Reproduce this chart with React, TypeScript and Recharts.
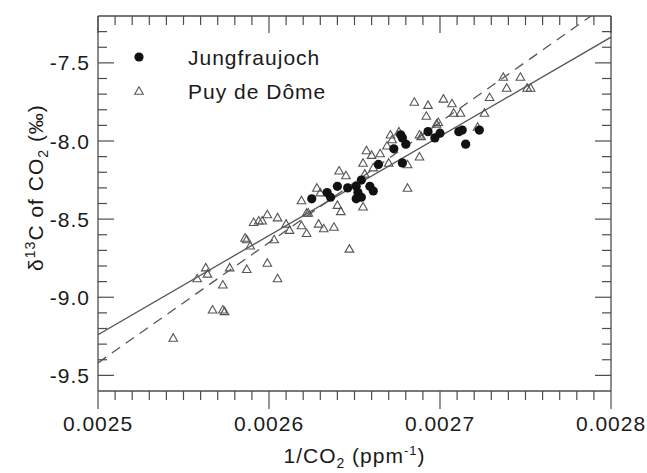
import { ScatterChart, Scatter, XAxis, YAxis, ReferenceLine } from "recharts"

const FONT = "'Liberation Sans', Arial, Helvetica, sans-serif"
const AX = "#4d4d4d"
const TXT = "#1a1a1a"
const FS = 21

// Jungfraujoch: 1/CO2 (ppm-1) and d13C (permil)
const jfjX = [0.002625, 0.002634, 0.002636, 0.00264, 0.002646, 0.002651, 0.002652, 0.002654, 0.002659, 0.002661, 0.002651, 0.002654, 0.002664, 0.002673, 0.002677, 0.002678, 0.00268, 0.002678, 0.002693, 0.002697, 0.0027, 0.002711, 0.002713, 0.002715, 0.002723]
const jfjY = [-8.37, -8.33, -8.36, -8.29, -8.3, -8.29, -8.33, -8.25, -8.29, -8.32, -8.37, -8.36, -8.15, -8.05, -7.96, -7.98, -8.02, -8.14, -7.94, -7.98, -7.95, -7.94, -7.93, -8.02, -7.93]

// Puy de Dome
const pdmX = [0.002544, 0.002558, 0.002563, 0.002564, 0.002567, 0.002573, 0.002573, 0.002574, 0.002577, 0.002587, 0.002586, 0.002587, 0.002589, 0.002591, 0.002594, 0.002596, 0.002599, 0.002599, 0.002603, 0.002605, 0.002605, 0.00261, 0.002612, 0.002619, 0.002622, 0.002622, 0.002623, 0.002629, 0.002632, 0.002638, 0.00264, 0.002642, 0.002647, 0.002655, 0.002619, 0.002628, 0.00263, 0.002641, 0.002645, 0.002656, 0.002661, 0.002655, 0.002657, 0.00266, 0.002665, 0.00267, 0.002669, 0.002671, 0.002672, 0.002676, 0.002688, 0.002688, 0.002681, 0.002698, 0.002685, 0.002693, 0.002692, 0.002702, 0.002707, 0.002708, 0.002712, 0.002699, 0.002689, 0.002729, 0.002726, 0.002737, 0.002747, 0.002739, 0.002751, 0.002753, 0.002722, 0.002681]
const pdmY = [-9.26, -8.88, -8.81, -8.85, -9.08, -8.92, -9.08, -9.09, -8.81, -8.82, -8.62, -8.63, -8.67, -8.52, -8.51, -8.51, -8.47, -8.78, -8.63, -8.49, -8.88, -8.53, -8.57, -8.54, -8.59, -8.46, -8.46, -8.53, -8.56, -8.55, -8.41, -8.45, -8.69, -8.42, -8.38, -8.3, -8.33, -8.19, -8.22, -8.21, -8.17, -8.14, -8.06, -8.09, -8.08, -8.14, -8.03, -7.96, -7.99, -7.94, -7.96, -8.1, -8.3, -7.89, -7.75, -7.77, -7.84, -7.73, -7.76, -7.82, -7.82, -7.88, -7.97, -7.72, -7.82, -7.59, -7.59, -7.66, -7.66, -7.66, -7.91, -8.15]

// regression lines: [intercept, slope]
const FIT_SOLID = [-25.107, 6347]
const FIT_DASHED = [-28.67, 7700]

const X_DOMAIN = [0.0025, 0.0028]
const Y_DOMAIN = [-9.6, -7.2]
const X_MAJOR = [0.0025, 0.0026, 0.0027, 0.0028]
const Y_MAJOR = [-9.5, -9.0, -8.5, -8.0, -7.5]

const xTicks = Array.from({ length: 31 }, (_, i) => +(0.0025 + i * 0.00001).toFixed(5))
const yTicks = Array.from({ length: 23 }, (_, i) => +(-9.5 + i * 0.1).toFixed(1))

const jfj = jfjX.map((x, i) => ({ x, y: jfjY[i] }))
const pdm = pdmX.map((x, i) => ({ x, y: pdmY[i] }))

const isMaj = (list: number[], v: number) => list.some((m) => Math.abs(m - v) < 1e-9)
const fitAt = (f: number[], x: number) => f[0] + f[1] * x

const txt = { fontFamily: FONT, fontSize: FS, fill: TXT, letterSpacing: 1 }

function BottomTick({ x, y, payload }: any) {
  const major = isMaj(X_MAJOR, payload.value)
  return (
    <g>
      <line x1={x} x2={x} y1={y} y2={y + (major ? 18 : 9)} stroke={AX} strokeWidth={1.2} />
      {major && <text x={x} y={y + 40} textAnchor="middle" {...txt}>{payload.value.toFixed(4)}</text>}
    </g>
  )
}

function TopTick({ x, y, payload }: any) {
  const major = isMaj(X_MAJOR, payload.value)
  return <line x1={x} x2={x} y1={y} y2={y + (major ? 17 : 9)} stroke={AX} strokeWidth={1.2} />
}

function LeftTick({ x, y, payload }: any) {
  const major = isMaj(Y_MAJOR, payload.value)
  return (
    <g>
      <line x1={x} x2={x + (major ? 16 : 9)} y1={y} y2={y} stroke={AX} strokeWidth={1.2} />
      {major && <text x={x - 8} y={y + 7.5} textAnchor="end" {...txt}>{payload.value.toFixed(1)}</text>}
    </g>
  )
}

function RightTick({ x, y, payload }: any) {
  const major = isMaj(Y_MAJOR, payload.value)
  return <line x1={x} x2={x - (major ? 16 : 9)} y1={y} y2={y} stroke={AX} strokeWidth={1.2} />
}

function XTitle({ viewBox }: any) {
  const cx = viewBox.x + viewBox.width / 2
  const cy = viewBox.y + 72
  return (
    <text x={cx} y={cy} textAnchor="middle" {...txt}>
      1/CO<tspan dy={5} fontSize={14}>2</tspan>
      <tspan dy={-5}> (ppm</tspan>
      <tspan dy={-8} fontSize={13}>-1</tspan>
      <tspan dy={8}>)</tspan>
    </text>
  )
}

function YTitle({ viewBox }: any) {
  const cx = 43
  const cy = viewBox.y + viewBox.height / 2 - 16
  return (
    <text transform={`translate(${cx},${cy}) rotate(-90)`} textAnchor="middle" {...txt}>
      δ<tspan dy={-8} fontSize={14}>13</tspan>
      <tspan dy={8}>C of CO</tspan>
      <tspan dy={5} fontSize={14}>2</tspan>
      <tspan dy={-5}> (‰)</tspan>
    </text>
  )
}

const Dot = (p: any) => <circle cx={p.cx} cy={p.cy} r={4.6} fill="#111" />
const Tri = (p: any) => (
  <polygon
    points={`${p.cx},${p.cy - 4.2} ${p.cx + 4.3},${p.cy + 3.3} ${p.cx - 4.3},${p.cy + 3.3}`}
    fill="none"
    stroke="#555"
    strokeWidth={1.1}
  />
)

export default function App() {
  return (
    <div style={{ position: "absolute", left: 0, top: 0, width: 647, height: 473, background: "#fff" }}>
      <ScatterChart width={647} height={473} margin={{ top: 15, right: 35, bottom: 0, left: 0 }}>
        <XAxis
          xAxisId="b" orientation="bottom" dataKey="x" type="number" height={82}
          domain={X_DOMAIN} allowDataOverflow ticks={xTicks} interval={0}
          tickSize={0} tickMargin={0} tick={<BottomTick />} tickLine={false}
          axisLine={{ stroke: AX, strokeWidth: 1.3 }} label={<XTitle />}
        />
        <XAxis
          xAxisId="t" orientation="top" dataKey="x" type="number" height={1}
          domain={X_DOMAIN} allowDataOverflow ticks={xTicks} interval={0}
          tickSize={0} tickMargin={0} tick={<TopTick />} tickLine={false}
          axisLine={{ stroke: AX, strokeWidth: 1.3 }}
        />
        <YAxis
          yAxisId="l" orientation="left" dataKey="y" type="number" width={98}
          domain={Y_DOMAIN} allowDataOverflow ticks={yTicks} interval={0}
          tickSize={0} tickMargin={0} tick={<LeftTick />} tickLine={false}
          axisLine={{ stroke: AX, strokeWidth: 1.3 }} label={<YTitle />}
        />
        <YAxis
          yAxisId="r" orientation="right" dataKey="y" type="number" width={1}
          domain={Y_DOMAIN} allowDataOverflow ticks={yTicks} interval={0}
          tickSize={0} tickMargin={0} tick={<RightTick />} tickLine={false}
          axisLine={{ stroke: AX, strokeWidth: 1.3 }}
        />
        <ReferenceLine
          xAxisId="b" yAxisId="l" ifOverflow="hidden"
          segment={[{ x: X_DOMAIN[0], y: fitAt(FIT_SOLID, X_DOMAIN[0]) }, { x: X_DOMAIN[1], y: fitAt(FIT_SOLID, X_DOMAIN[1]) }]}
          stroke="#555" strokeWidth={1.3}
        />
        <ReferenceLine
          xAxisId="b" yAxisId="l" ifOverflow="hidden"
          segment={[{ x: X_DOMAIN[0], y: fitAt(FIT_DASHED, X_DOMAIN[0]) }, { x: X_DOMAIN[1], y: fitAt(FIT_DASHED, X_DOMAIN[1]) }]}
          stroke="#555" strokeWidth={1.3} strokeDasharray="10 7"
        />
        <Scatter name="Puy de Dôme" data={pdm} xAxisId="b" yAxisId="l" shape={<Tri />} isAnimationActive={false} />
        <Scatter name="Jungfraujoch" data={jfj} xAxisId="b" yAxisId="l" shape={<Dot />} isAnimationActive={false} />
      </ScatterChart>
      <svg width={647} height={473} style={{ position: "absolute", left: 0, top: 0, pointerEvents: "none" }}>
        <circle cx={139} cy={57} r={4.6} fill="#111" />
        <Tri cx={139} cy={91} />
        <text x={188} y={64.5} {...txt}>Jungfraujoch</text>
        <text x={188} y={98.5} {...txt}>Puy de Dôme</text>
      </svg>
    </div>
  )
}
